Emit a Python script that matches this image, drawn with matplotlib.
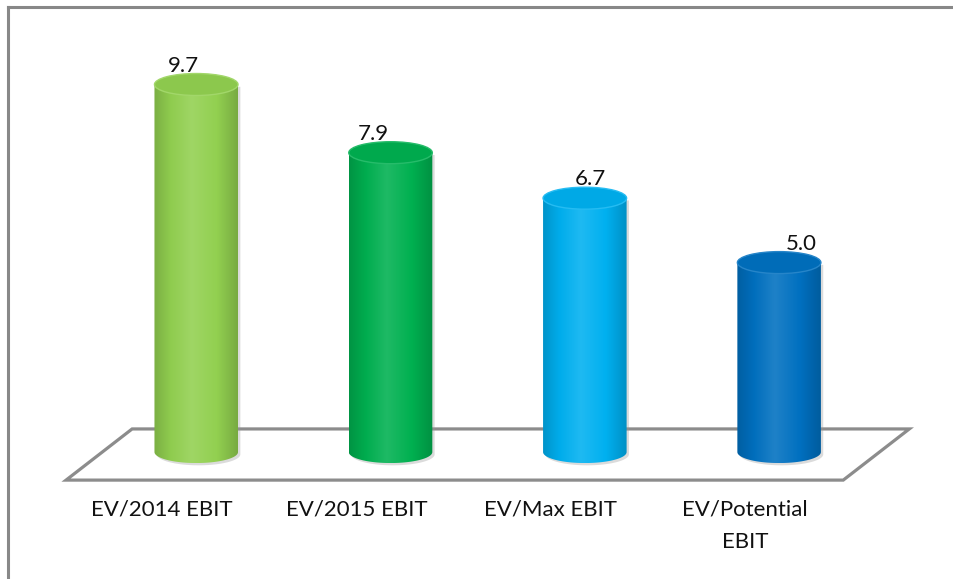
import numpy as np
import matplotlib.pyplot as plt
from matplotlib.patches import Ellipse, Polygon
from matplotlib.lines import Line2D
from matplotlib.colors import LinearSegmentedColormap, to_rgb

categories = ["EV/2014 EBIT", "EV/2015 EBIT", "EV/Max EBIT", "EV/Potential\nEBIT"]
values = [9.7, 7.9, 6.7, 5.0]
bar_colors = ["#92D050", "#00B050", "#00B0F0", "#0070C0"]
label_nudge = [-13, -17, 6, 22]   # value labels sit off-centre in the 3D view (px)

plt.rcParams['font.family'] = ['Lato', 'DejaVu Sans']

fig = plt.figure(figsize=(9.54, 5.79), dpi=100)
ax = fig.add_axes([0, 0, 1, 1])
ax.axis('off')

bw = 0.43    # cylinder diameter (x units)
eh = 0.58    # height of the end ellipses (y units)


def shade(c, f):
    c = np.array(to_rgb(c))
    if f >= 0:
        return tuple(c + (1 - c) * f)
    return tuple(c * (1 + f))


# floor of the 3D plot
n = len(values)
fl, fr = -0.67, n - 1 + 0.33
ddx, ddy = 0.34, 1.35
y0 = -0.74
floor = Polygon([(fl, y0), (fl + ddx, y0 + ddy), (fr + ddx, y0 + ddy), (fr, y0)],
                closed=True, fill=False, ec='#8c8c8c', lw=2.3, joinstyle='miter', zorder=1)
ax.add_patch(floor)

grad = np.linspace(0, 1, 256)[None, :]
t = np.linspace(np.pi, 2 * np.pi, 60)

for i, (v, c) in enumerate(zip(values, bar_colors)):
    left, right = i - bw / 2, i + bw / 2
    arc = np.column_stack([i + bw / 2 * np.cos(t), eh / 2 * np.sin(t)])
    verts = np.vstack([[left, v], arc, [right, v]])

    # soft shadow on the right side
    sh = Polygon(verts + [0.012, -0.06], closed=True, fc='#9a9a9a', ec='none', alpha=0.35, zorder=2)
    ax.add_patch(sh)

    body = Polygon(verts, closed=True, fc='none', ec='none', zorder=3)
    ax.add_patch(body)
    cmap = LinearSegmentedColormap.from_list(
        f"cyl{i}",
        [(0.0, shade(c, -0.16)), (0.2, shade(c, -0.02)), (0.45, shade(c, 0.12)),
         (0.75, shade(c, 0.0)), (1.0, shade(c, -0.18))])
    im = ax.imshow(grad, cmap=cmap, extent=(left, right, -eh / 2, v),
                   aspect='auto', interpolation='bilinear', zorder=3)
    im.set_clip_path(body)

    top = Ellipse((i, v), bw, eh, fc=shade(c, -0.04), ec=shade(c, 0.15), lw=1.0, zorder=4)
    ax.add_patch(top)

    ax.annotate(f"{v:.1f}", (i, v + eh / 2), xytext=(label_nudge[i], 2),
                textcoords='offset pixels', ha='center', va='baseline',
                fontsize=16, color='#111111', zorder=5)

    ax.text(i - 0.175, -1.25, categories[i], ha='center', va='top',
            fontsize=16, color='#111111', linespacing=1.8)

ax.set_xlim(-1.01, 3.9)
ax.set_ylim(-3.35, 11.93)

# chart border (only top and left fall inside the image)
bx, by = 8.5 / 954, 1 - 6.5 / 579
fig.add_artist(Line2D([bx, bx], [0, by], color='#888888', lw=2.2, transform=fig.transFigure))
fig.add_artist(Line2D([bx, 1], [by, by], color='#888888', lw=2.2, transform=fig.transFigure))

fig.savefig("out.png", dpi=100)
